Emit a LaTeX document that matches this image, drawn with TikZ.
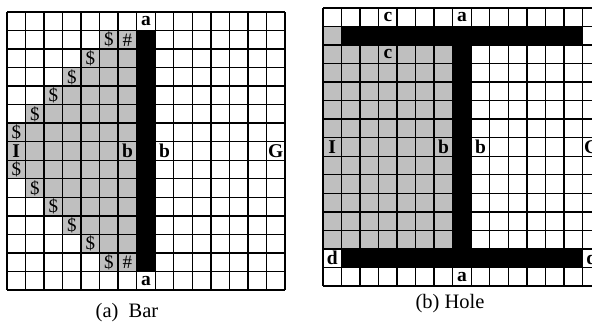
\documentclass[tikz,border=0pt]{standalone}
\usepackage{fontspec}
\setmainfont{Liberation Serif}
\tikzset{
  gridline/.style={line width=1.4pt, black},
  graycell/.style={fill=black!25},
  blackcell/.style={fill=black},
  lab/.style={inner sep=0pt, font=\fontsize{19.5}{19.5}\selectfont\bfseries},
  sym/.style={inner sep=0pt, font=\fontsize{19}{19}\selectfont},
  captext/.style={inner sep=0pt, font=\fontsize{20.5}{21}\selectfont},
}
\begin{document}
\begin{tikzpicture}[x=1pt,y=-1pt]
\useasboundingbox (0,0) rectangle (592,325);
\clip (0,0) rectangle (592,325);
% ---------------- (a) Bar ----------------
\begin{scope}[xshift=7pt, yshift=-12pt, x=18.53pt, y=-18.53pt]
  \foreach \r/\s in {1/5,2/4,3/3,4/2,5/1,6/0,7/0,8/0,9/1,10/2,11/3,12/4,13/5}
    \fill[graycell] (\s,\r) rectangle (7,\r+1);
  \fill[blackcell] (7,1) rectangle (8,14);
  \foreach \k in {0,...,15} {
    \draw[gridline] (\k,0) -- (\k,15);
    \draw[gridline] (0,\k) -- (15,\k);
  }
  \foreach \c/\r [count=\i] in {5/1,4/2,3/3,2/4,1/5,0/6,0/8,1/9,2/10,3/11,4/12,5/13}
    \node[sym] (ad\i) at (\c+0.5,\r+0.5) {\$};
  \node[sym] (ah1) at (6.5,1.5) {\#};
  \node[sym] (ah2) at (6.5,13.5) {\#};
  \node[lab] (aa1) at (7.5,0.5) {a};
  \node[lab] (aa2) at (7.5,14.5) {a};
  \node[lab] (aI) at (0.5,7.5) {I};
  \node[lab] (ab1) at (6.5,7.5) {b};
  \node[lab] (ab2) at (8.5,7.5) {b};
  \node[lab] (aG) at (14.5,7.5) {G};
\end{scope}
% ---------------- (b) Hole ----------------
\begin{scope}[xshift=323pt, yshift=-8pt, x=18.53pt, y=-18.53pt]
  \fill[graycell] (0,1) rectangle (7,13);
  \fill[graycell] (1,13) rectangle (7,14);
  \fill[blackcell] (1,1) rectangle (14,2);
  \fill[blackcell] (7,2) rectangle (8,13);
  \fill[blackcell] (1,13) rectangle (14,14);
  \foreach \k in {0,...,15} {
    \draw[gridline] (\k,0) -- (\k,15);
    \draw[gridline] (0,\k) -- (15,\k);
  }
  \node[lab] (bc1) at (3.5,0.5) {c};
  \node[lab] (ba1) at (7.5,0.5) {a};
  \node[lab] (bc2) at (3.5,2.5) {c};
  \node[lab] (bI) at (0.5,7.5) {I};
  \node[lab] (bb1) at (6.5,7.5) {b};
  \node[lab] (bb2) at (8.5,7.5) {b};
  \node[lab] (bG) at (14.5,7.5) {G};
  \node[lab] (bd1) at (0.5,13.5) {d};
  \node[lab] (bd2) at (14.5,13.5) {d};
  \node[lab] (ba2) at (7.5,14.5) {a};
\end{scope}
% captions
\node[captext] (capa) at (127,313) {(a)\ \ Bar};
\node[captext] (capb) at (450,304) {(b) Hole};
\end{tikzpicture}
\end{document}
